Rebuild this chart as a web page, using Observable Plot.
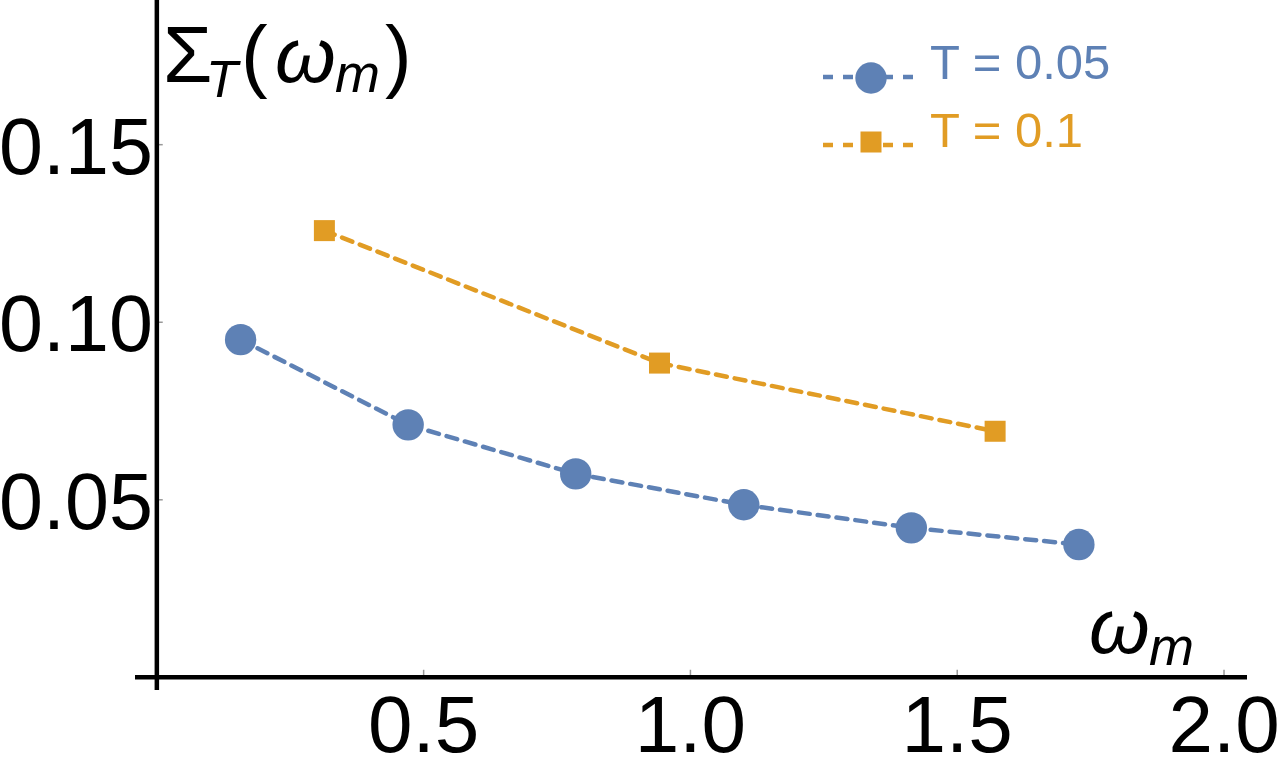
<!DOCTYPE html>
<html><head><meta charset="utf-8">
<script src="https://cdn.jsdelivr.net/npm/d3@7"></script>
<script src="https://cdn.jsdelivr.net/npm/@observablehq/plot@0.6"></script>
<style>
html,body{margin:0;padding:0;background:#fff;overflow:hidden;}
#wrap{position:relative;width:1280px;height:770px;}
</style></head><body><div id="wrap"></div>
<script>
// ---- data ----
const omegaLow  = [0.157, 0.471, 0.785, 1.100, 1.414, 1.728];
const sigmaLow  = [0.0951, 0.0711, 0.0573, 0.0486, 0.0421, 0.0374];
const omegaHigh = [0.314, 0.942, 1.571];
const sigmaHigh = [0.1258, 0.0885, 0.0693];
const seriesNames  = ["T = 0.05", "T = 0.1"];
const seriesColors = ["#5E81B5", "#E19C24"];
const xTicks = [0.5, 1.0, 1.5, 2.0];
const xTickLabels = ["0.5", "1.0", "1.5", "2.0"];
const yTicks = [0.05, 0.10, 0.15];
const yTickLabels = ["0.05", "0.10", "0.15"];
const xDomain = [-0.04, 2.044];
const yDomain = [-0.0037, 0.1906];

const low  = omegaLow.map((x, i) => ({x, y: sigmaLow[i]}));
const high = omegaHigh.map((x, i) => ({x, y: sigmaHigh[i]}));
const font = "'Liberation Sans', Arial, Helvetica, sans-serif";

const chart = Plot.plot({
  width: 1280, height: 770,
  marginLeft: 135, marginRight: 33, marginTop: 0, marginBottom: 80,
  x: {domain: xDomain, axis: null},
  y: {domain: yDomain, axis: null},
  style: {fontFamily: font, background: "white", overflow: "visible"},
  marks: [
    Plot.ruleX(xTicks, {x: d => d, y1: 0, y2: 0.002, stroke: "#999", strokeWidth: 1.5}),
    Plot.ruleY(yTicks, {y: d => d, x1: 0, x2: 0.012, stroke: "#999", strokeWidth: 1.5}),
    Plot.ruleY([0], {stroke: "black", strokeWidth: 4.5}),
    Plot.ruleX([0], {stroke: "black", strokeWidth: 4.5}),
    Plot.text(xTicks, {x: d => d, y: 0, text: (d, i) => xTickLabels[i], textAnchor: "middle",
      lineAnchor: "bottom", dy: 75, fontSize: 80, fill: "black"}),
    Plot.text(yTicks, {x: 0, y: d => d, text: (d, i) => yTickLabels[i], textAnchor: "end",
      lineAnchor: "bottom", dx: -4, dy: 29, fontSize: 79, fill: "black"}),
    Plot.line(high, {x: "x", y: "y", stroke: seriesColors[1], strokeWidth: 4.5, strokeDasharray: "11,8"}),
    Plot.line(low,  {x: "x", y: "y", stroke: seriesColors[0], strokeWidth: 4.5, strokeDasharray: "11,8"}),
    Plot.dot(high, {x: "x", y: "y", symbol: "square", r: 11.85, fill: seriesColors[1], stroke: "none"}),
    Plot.dot(low,  {x: "x", y: "y", r: 15.7, fill: seriesColors[0], stroke: "none"})
  ]
});
document.getElementById("wrap").appendChild(chart);

const svg = d3.select(chart);
// axis labels
function addPiece(g, txt, x, y, size, italic) {
  g.append("tspan").attr("x", x).attr("y", y).attr("font-size", size)
    .attr("font-style", italic ? "italic" : "normal").text(txt);
}
const yl = svg.append("text").attr("font-family", font).attr("fill", "black").attr("text-anchor", "start");
addPiece(yl, "Σ", 163, 82, 80, false);
addPiece(yl, "T", 206, 97, 52, true);
addPiece(yl, "(", 241, 82, 80, false);
addPiece(yl, "ω", 275, 82, 78, true);
addPiece(yl, "m", 335, 92, 54, true);
addPiece(yl, ")", 385, 82, 80, false);

const xl = svg.append("text").attr("font-family", font).attr("fill", "black").attr("text-anchor", "start");
addPiece(xl, "ω", 1089, 653, 78, true);
addPiece(xl, "m", 1149, 665, 54, true);

// legend
const lg = svg.append("g").attr("font-family", font).attr("text-anchor", "start");
const rows = [77, 145];
rows.forEach((ly, i) => {
  lg.append("line").attr("x1", 823).attr("x2", 918).attr("y1", ly).attr("y2", ly)
    .attr("stroke", seriesColors[i]).attr("stroke-width", 4.5).attr("stroke-dasharray", "10,10");
  if (i === 0) {
    lg.append("circle").attr("cx", 871).attr("cy", ly + 1).attr("r", 15.7).attr("fill", seriesColors[i]);
  } else {
    lg.append("rect").attr("x", 860.5).attr("y", ly - 13.5).attr("width", 21).attr("height", 21).attr("fill", seriesColors[i]);
  }
  lg.append("text").attr("x", 930).attr("y", ly + 1.5).attr("font-size", 49)
    .attr("fill", seriesColors[i]).text(seriesNames[i]);
});
</script></body></html>
